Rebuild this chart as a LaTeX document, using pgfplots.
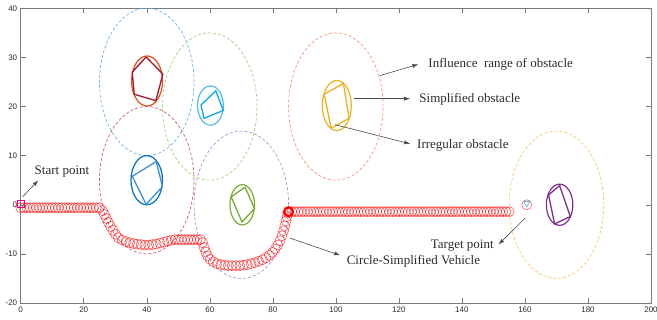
\documentclass[border=0pt]{standalone}
\usepackage{fontspec}
\setmainfont{Liberation Serif}
\setsansfont{Liberation Sans}
\usepackage{pgfplots}
\pgfplotsset{compat=1.18}
\usetikzlibrary{arrows.meta}

\definecolor{cPentC}{HTML}{D95319}
\definecolor{cPent}{HTML}{A2142F}
\definecolor{cInfA}{HTML}{6CB4E4}
\definecolor{cCyanC}{HTML}{4DBEEE}
\definecolor{cCyan}{HTML}{11A7E6}
\definecolor{cInfB}{HTML}{A8CF7E}
\definecolor{cBlueC}{HTML}{0072BD}
\definecolor{cBlue}{HTML}{3E8FD5}
\definecolor{cInfC}{HTML}{C85A7A}
\definecolor{cGreen}{HTML}{77AC30}
\definecolor{cInfD}{HTML}{B48ED6}
\definecolor{cYel}{HTML}{EDB120}
\definecolor{cInfE}{HTML}{F0967A}
\definecolor{cPurp}{HTML}{7E2F8E}
\definecolor{cInfF}{HTML}{F5C76A}
\definecolor{cAxis}{HTML}{7A7A7A}
\definecolor{cText}{HTML}{2B2B2B}

\begin{document}
\begin{tikzpicture}
\begin{axis}[
  scale only axis, width=630.3pt, height=294.7pt,
  xmin=0, xmax=200, ymin=-20, ymax=40,
  xtick={0,20,...,200}, ytick={-20,-10,...,40},
  tick align=inside, xtick pos=both, ytick pos=both,
  axis line style={cAxis, line width=0.5pt},
  major tick style={cAxis, line width=0.5pt},
  major tick length=5pt,
  ticklabel style={font=\sffamily\fontsize{8}{9}\selectfont, text=cText},
  /pgf/number format/assume math mode=true,
  clip=false,
]
% influence ranges
\tikzset{infl/.style={dash pattern=on 3pt off 2pt, line width=0.7pt}}
\draw[infl, cInfA] (axis cs:40,25) ellipse [x radius=15, y radius=15];
\draw[infl, cInfB] (axis cs:60,20) ellipse [x radius=15, y radius=15];
\draw[infl, cInfC] (axis cs:40,5) ellipse [x radius=15, y radius=15];
\draw[infl, cInfD] (axis cs:70,0) ellipse [x radius=15, y radius=15];
\draw[infl, cInfE] (axis cs:100,20) ellipse [x radius=15, y radius=15];
\draw[infl, cInfF] (axis cs:170,0) ellipse [x radius=15, y radius=15];

% simplified obstacles
\draw[cPentC, line width=1.2pt] (axis cs:40.1,25.2) ellipse [x radius=4.9, y radius=5.1];
\draw[cCyanC, line width=1.2pt] (axis cs:60.2,20.2) ellipse [x radius=4.1, y radius=4];
\draw[cBlueC, line width=1.2pt] (axis cs:40,5) ellipse [x radius=5, y radius=5];
\draw[cGreen, line width=1.2pt] (axis cs:70.3,0) ellipse [x radius=3.9, y radius=4.1];
\draw[cYel, line width=1.2pt] (axis cs:100.3,20.2) ellipse [x radius=4.6, y radius=5.1];
\draw[cPurp, line width=1.2pt] (axis cs:171,0) ellipse [x radius=4.2, y radius=4.2];

% irregular obstacles
\addplot[cPent, line width=1.3pt] coordinates {(39.8,30.1) (45.1,26.6) (42.9,21.2) (36,22.5) (35.4,27.0) (39.8,30.1)};
\addplot[cCyan, line width=1.3pt] coordinates {(57.2,20.3) (61.9,23.2) (64.3,19.2) (58.2,17.6) (57.2,20.3)};
\addplot[cBlue, line width=1.3pt] coordinates {(35.4,5.8) (43,8.8) (45,3.7) (39.8,0.1) (35.4,5.8)};
\addplot[cGreen, line width=1.3pt] coordinates {(71.2,3.6) (74.2,-0.8) (70.2,-3.5) (66.8,1.6) (71.2,3.6)};
\addplot[cYel, line width=1.3pt] coordinates {(96.3,22.5) (102.4,24.7) (104.2,17.6) (98.5,15.6) (96.3,22.5)};
\addplot[cPurp, line width=1.3pt] coordinates {(167.5,2.0) (171,3.9) (174.4,-2.4) (169.4,-3.9) (167.5,2.0)};

% vehicle path
\addplot[only marks, mark=o, mark size=5pt, mark options={draw=red, draw opacity=0.75, line width=0.5pt}] coordinates {
(0,-0.6)(1,-0.6)(2,-0.6)(3,-0.6)(4,-0.6)(5,-0.6)(6,-0.6)(7,-0.6)(8,-0.6)(9,-0.6)
(10,-0.6)(11,-0.6)(12,-0.6)(13,-0.6)(14,-0.6)(15,-0.6)(16,-0.6)(17,-0.6)(18,-0.6)(19,-0.6)
(20,-0.6)(21,-0.6)(22,-0.6)(23,-0.6)(24,-0.6)(25,-0.6)
(26,-1.2)(26.6,-2.0)(27.2,-2.8)(27.8,-3.6)(28.5,-4.4)(29.3,-5.2)(30.1,-6.0)(31,-6.7)
(32.2,-7.2)(33.4,-7.5)(34.6,-7.7)(35.8,-7.9)(37,-8.0)(38.2,-8.1)(39.4,-8.2)(40.6,-8.2)
(41.8,-8.1)(43,-8.0)(44.2,-7.8)(45.4,-7.6)(46.6,-7.4)(47.8,-7.2)(49,-7.1)
(50,-7.1)(51,-7.1)(52,-7.1)(53,-7.1)(54,-7.1)(55,-7.1)(56,-7.1)(57,-7.1)
(57.7,-7.7)(58.2,-8.7)(58.7,-9.6)(59.3,-10.4)(60.1,-11.1)(61.1,-11.6)(62.3,-12.0)
(63.5,-12.2)(64.7,-12.3)(65.9,-12.4)(67.1,-12.4)(68.3,-12.4)(69.5,-12.4)(70.7,-12.3)
(71.9,-12.2)(73.1,-12.0)(74.3,-11.8)(75.5,-11.5)(76.7,-11.2)(77.8,-10.8)(78.9,-10.3)
(79.9,-9.7)(80.8,-9.0)(81.6,-8.2)(82.3,-7.3)(82.9,-6.3)(83.4,-5.3)(83.8,-4.3)
(84.2,-3.3)(84.5,-2.4)(84.8,-1.7)
(86,-1.4)(87,-1.4)(88,-1.4)(89,-1.4)(90,-1.4)(91,-1.4)(92,-1.4)(93,-1.4)(94,-1.4)(95,-1.4)
(96,-1.4)(97,-1.4)(98,-1.4)(99,-1.4)(100,-1.4)(101,-1.4)(102,-1.4)(103,-1.4)(104,-1.4)(105,-1.4)
(106,-1.4)(107,-1.4)(108,-1.4)(109,-1.4)(110,-1.4)(111,-1.4)(112,-1.4)(113,-1.4)(114,-1.4)(115,-1.4)
(116,-1.4)(117,-1.4)(118,-1.4)(119,-1.4)(120,-1.4)(121,-1.4)(122,-1.4)(123,-1.4)(124,-1.4)(125,-1.4)
(126,-1.4)(127,-1.4)(128,-1.4)(129,-1.4)(130,-1.4)(131,-1.4)(132,-1.4)(133,-1.4)(134,-1.4)(135,-1.4)
(136,-1.4)(137,-1.4)(138,-1.4)(139,-1.4)(140,-1.4)(141,-1.4)(142,-1.4)(143,-1.4)(144,-1.4)(145,-1.4)
(146,-1.4)(147,-1.4)(148,-1.4)(149,-1.4)(150,-1.4)(151,-1.4)(152,-1.4)(153,-1.4)(154,-1.4)(155,-1.4)
};
% current vehicle (bold)
\addplot[only marks, mark=o, mark size=4.4pt, mark options={draw=red, line width=2.2pt}] coordinates {(85,-1.4)};
% start point
\addplot[only marks, mark=square, mark size=3.8pt, mark options={draw=magenta, line width=0.5pt}] coordinates {(0,0.2)};
% target point
\addplot[only marks, mark=o, mark size=5pt, mark options={draw=red!55, line width=0.7pt}] coordinates {(160.6,0)};
\addplot[only marks, mark=triangle, mark size=3.6pt, mark options={draw=cCyanC, rotate=180, line width=0.7pt}] coordinates {(160.6,0.3)};

% annotations
\tikzset{ann/.style={-{Latex[length=6pt,width=4pt]}, black!70, line width=0.6pt},
         lab/.style={font=\fontsize{13}{15}\selectfont, text=cText, inner sep=0pt}}
\draw[ann] (axis cs:0.6,1.6) -- (axis cs:5.6,5.0);
\node[lab] at (axis cs:13.1,6.8) {Start point};
\draw[ann] (axis cs:114,26.3) -- (axis cs:126.2,28.6);
\node[lab] at (axis cs:152.3,28.6) {Influence\ \ range of obstacle};
\draw[ann] (axis cs:105.6,21.6) -- (axis cs:123.6,21.6);
\node[lab] at (axis cs:142.5,21.5) {Simplified obstacle};
\draw[ann] (axis cs:99.8,16.3) -- (axis cs:123.6,12.4);
\node[lab] at (axis cs:140.3,12.1) {Irregular obstacle};
\draw[ann] (axis cs:160.1,-2.7) -- (axis cs:151.6,-8.1);
\node[lab] at (axis cs:140.1,-8.3) {Target point};
\draw[ann] (axis cs:85.5,-6.8) -- (axis cs:101.4,-10.3);
\node[lab] at (axis cs:124.6,-11.5) {Circle-Simplified Vehicle};
\end{axis}
\pgfresetboundingbox
\path ([xshift=-20.7pt,yshift=-17pt]current axis.south west) rectangle ([xshift=6pt,yshift=8.3pt]current axis.north east);
\end{tikzpicture}
\end{document}
